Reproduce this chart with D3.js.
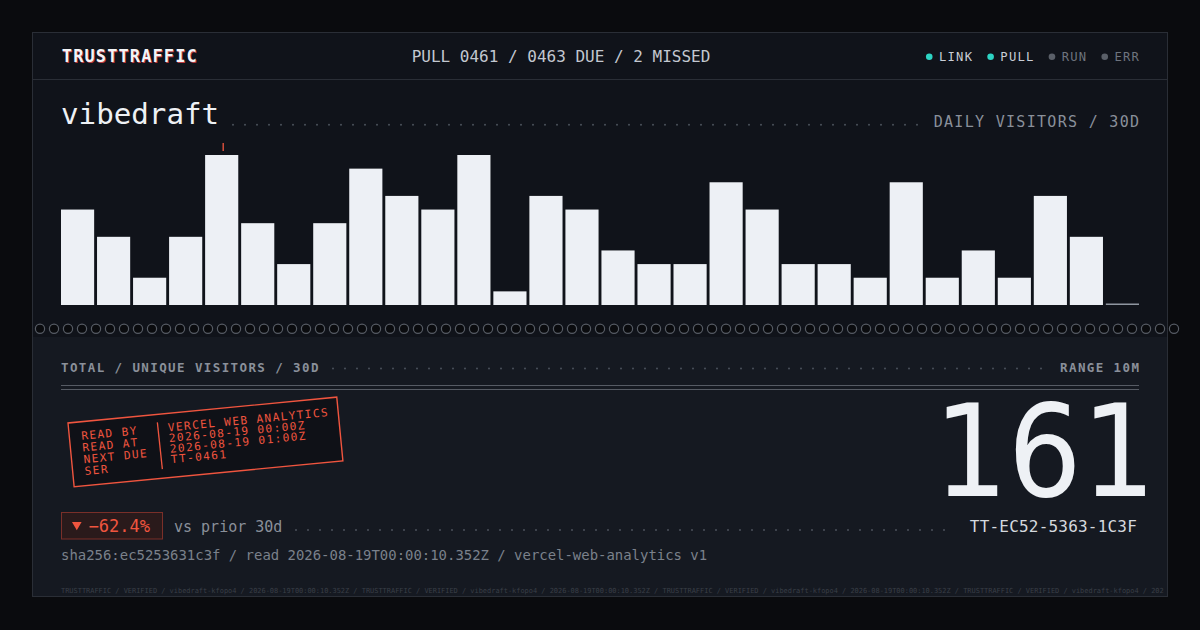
<!DOCTYPE html>
<html><head><meta charset="utf-8">
<script src="https://cdn.jsdelivr.net/npm/d3@7/dist/d3.min.js"></script>
<style>
html,body{margin:0;padding:0;background:#0a0b0e;}
svg{display:block}
</style></head><body>
<svg id="c" width="1200" height="630"></svg>
<script>
// ---- data ----
const days = ["07-21","07-22","07-23","07-24","07-25","07-26","07-27","07-28","07-29","07-30",
              "07-31","08-01","08-02","08-03","08-04","08-05","08-06","08-07","08-08","08-09",
              "08-10","08-11","08-12","08-13","08-14","08-15","08-16","08-17","08-18","08-19"];
const visitors = [7,5,2,5,11,6,3,6,10,8,7,11,1,8,7,4,3,3,9,7,3,3,2,9,2,4,2,8,5,0];
const statusLabels = ["LINK","PULL","RUN","ERR"];
const statusOn = [true,true,false,false];
const stampKeys = ["READ BY","READ AT","NEXT DUE","SER"];
const stampVals = ["VERCEL WEB ANALYTICS","2026-08-19 00:00Z","2026-08-19 01:00Z","TT-0461"];
const brand = "TRUSTTRAFFIC";
const pullText = "PULL 0461 / 0463 DUE / 2 MISSED";
const siteName = "vibedraft";
const chartLabel = "DAILY VISITORS / 30D";
const totalLabel = "TOTAL / UNIQUE VISITORS / 30D";
const rangeLabel = "RANGE 10M";
const deltaPct = -62.4;
const deltaLabel = "vs prior 30d";
const serial = "TT-EC52-5363-1C3F";
const provenance = "sha256:ec5253631c3f / read 2026-08-19T00:00:10.352Z / vercel-web-analytics v1";
const footerSeg = "TRUSTTRAFFIC / VERIFIED / vibedraft-kfopo4 / 2026-08-19T00:00:10.352Z / ";

// ---- styles ----
const MONO = "'DejaVu Sans Mono', 'Liberation Mono', monospace";
const BIG = "'DejaVu Sans Condensed', 'DejaVu Sans', sans-serif";
const C = {page:"#0a0b0e", top:"#10131a", bottom:"#151921", border:"#2a2e36",
  light:"#eef1f5", mid:"#8a909a", dim:"#7b818b", head:"#c3c8d0", teal:"#2dd4c4",
  off:"#5a5f68", red:"#f0553f", dot:"#4b515b"};

const svg = d3.select("#c");
svg.append("rect").attr("width",1200).attr("height",630).attr("fill",C.page);

// card
const L = 32, R = 1168, T = 32, B = 597;
svg.append("rect").attr("x",L).attr("y",T).attr("width",R-L).attr("height",337-T).attr("fill",C.top);
svg.append("rect").attr("x",L).attr("y",337).attr("width",R-L).attr("height",B-337).attr("fill",C.bottom);
svg.append("line").attr("x1",L).attr("x2",R).attr("y1",79.5).attr("y2",79.5).attr("stroke",C.border);
svg.append("rect").attr("x",L+0.5).attr("y",T+0.5).attr("width",R-L-1).attr("height",B-T-1)
  .attr("fill","none").attr("stroke",C.border);

// header
svg.append("text").attr("x",62.6).attr("y",62.5).text(brand)
  .attr("font-family",MONO).attr("font-size",17).attr("font-weight","bold").attr("letter-spacing",1.1)
  .attr("fill","#d8434a").attr("opacity",0.85);
svg.append("text").attr("x",61.8).attr("y",62).text(brand)
  .attr("font-family",MONO).attr("font-size",17).attr("font-weight","bold").attr("letter-spacing",1.1)
  .attr("fill","#f3f4f7");
svg.append("text").attr("x",561).attr("y",62.3).attr("text-anchor","middle").text(pullText)
  .attr("font-family",MONO).attr("font-size",16).attr("fill",C.head);

// status legend (right to left)
let cx = 1139;
for (let i = statusLabels.length - 1; i >= 0; i--) {
  const t = svg.append("text").attr("x",cx+1.2).attr("y",61.2).attr("text-anchor","end")
    .text(statusLabels[i]).attr("font-family",MONO).attr("font-size",12.2).attr("letter-spacing",1.25)
    .attr("fill", statusOn[i] ? "#c9ced6" : "#6e747e");
  const w = t.node().getComputedTextLength();
  const dx = cx - w - 8.5;
  svg.append("circle").attr("cx",dx).attr("cy",56.8).attr("r",3.3)
    .attr("fill", statusOn[i] ? C.teal : C.off);
  cx = dx - 18.5;
}

// leader dots helper
function leader(x0, x1, y) {
  svg.append("g").selectAll("circle").data(d3.range(x0, x1, 12)).join("circle")
    .attr("cx", d => d).attr("cy", y).attr("r", 1).attr("fill", C.dot);
}

// title row
svg.append("text").attr("x",61).attr("y",124.3).text(siteName)
  .attr("font-family",MONO).attr("font-size",29.2).attr("fill",C.light);
svg.append("text").attr("x",1139+1.3).attr("y",126.7).attr("text-anchor","end").text(chartLabel)
  .attr("font-family",MONO).attr("font-size",15).attr("letter-spacing",1.3).attr("fill",C.mid);
leader(233, 926, 124.7);

// bar chart
const x = d3.scaleBand().domain(days).range([61, 1139]).paddingInner(0.08).paddingOuter(0);
const y = d3.scaleLinear().domain([0, d3.max(visitors)]).range([305, 155]);
const bars = svg.append("g");
bars.selectAll("rect").data(visitors.map((v,i)=>({d:days[i], v}))).join("rect")
  .attr("x", d => x(d.d)).attr("width", x.bandwidth())
  .attr("y", d => d.v > 0 ? y(d.v) : y(0) - 1.5)
  .attr("height", d => d.v > 0 ? y(0) - y(d.v) : 1.5)
  .attr("fill", d => d.v > 0 ? "#edf0f5" : "#8f96a0");
// peak marker
const peakIdx = visitors.indexOf(d3.max(visitors));
const px = x(days[peakIdx]) + x.bandwidth()/2 + 1.5;
svg.append("line").attr("x1",px).attr("x2",px).attr("y1",y(d3.max(visitors))-12).attr("y2",y(d3.max(visitors))-4)
  .attr("stroke",C.red).attr("stroke-width",1.3);

// perforation
svg.append("g").selectAll("circle").data(d3.range(40, 1180, 14)).join("circle")
  .attr("cx", d => d).attr("cy", 328.8).attr("r", 4.6)
  .attr("fill", "#0a0b0e").attr("stroke", "#575c65").attr("stroke-width", 1.2);

// totals row
svg.append("text").attr("x",61).attr("y",371.7).text(totalLabel)
  .attr("font-family",MONO).attr("font-size",12.5).attr("font-weight","bold").attr("letter-spacing",1.4).attr("fill",C.mid);
svg.append("text").attr("x",1139+1.4).attr("y",371.7).attr("text-anchor","end").text(rangeLabel)
  .attr("font-family",MONO).attr("font-size",12.5).attr("font-weight","bold").attr("letter-spacing",1.4).attr("fill",C.mid);
leader(333, 1050, 368.5);
svg.append("line").attr("x1",61).attr("x2",1139).attr("y1",385.5).attr("y2",385.5).attr("stroke","#565b64");
svg.append("line").attr("x1",61).attr("x2",1139).attr("y1",389.5).attr("y2",389.5).attr("stroke","#565b64");

// big number
svg.append("text").attr("x",1155.5).attr("y",496).attr("text-anchor","end")
  .text(d3.sum(visitors))
  .attr("font-family",BIG).attr("font-size",129).attr("fill",C.light);

// stamp
const st = svg.append("g").attr("transform","translate(68,423) rotate(-5.5)");
st.append("rect").attr("width",270).attr("height",64).attr("fill","#0f1117")
  .attr("stroke",C.red).attr("stroke-width",1.4);
st.append("line").attr("x1",89).attr("x2",89.5).attr("y1",8).attr("y2",55).attr("stroke",C.red).attr("stroke-width",1.3);
st.selectAll("text.k").data(stampKeys).join("text").attr("class","k")
  .attr("x",12).attr("y",(d,i)=>18+i*11.8).text(d=>d)
  .attr("font-family",MONO).attr("font-size",11.2).attr("letter-spacing",1.35).attr("fill",C.red);
st.selectAll("text.v").data(stampVals).join("text").attr("class","v")
  .attr("x",99).attr("y",(d,i)=>18+i*10.7).text(d=>d)
  .attr("font-family",MONO).attr("font-size",11.2).attr("letter-spacing",1.35).attr("fill",C.red);

// delta row
svg.append("rect").attr("x",61.5).attr("y",512.5).attr("width",101).attr("height",26.5)
  .attr("fill","#2a1a1b").attr("stroke","#7a2f29");
svg.append("path").attr("d", d3.symbol(d3.symbolTriangle, 40)())
  .attr("transform","translate(76.8,524.8) rotate(180)").attr("fill",C.red);
svg.append("text").attr("x",88.5).attr("y",532.3)
  .text("−" + Math.abs(deltaPct).toFixed(1) + "%")
  .attr("font-family",MONO).attr("font-size",17).attr("fill",C.red);
svg.append("text").attr("x",174).attr("y",532.3).text(deltaLabel)
  .attr("font-family",MONO).attr("font-size",15).attr("fill",C.mid);
leader(296, 955, 530);
svg.append("text").attr("x",1137).attr("y",532.3).attr("text-anchor","end").text(serial)
  .attr("font-family",MONO).attr("font-size",16).attr("letter-spacing",0.2).attr("fill","#d5d9df");

// provenance
svg.append("text").attr("x",61).attr("y",560).text(provenance)
  .attr("font-family",MONO).attr("font-size",13.95).attr("fill",C.dim);

// footer (text ends at the card edge, as in the reference)
const fsz = 6.95, fchars = Math.floor((R - 2 - 61) / (fsz * 0.602));
svg.append("text").attr("x",61).attr("y",592.5)
  .text(d3.range(5).map(()=>footerSeg).join("").slice(0, fchars))
  .attr("font-family",MONO).attr("font-size",fsz).attr("fill","#3a3f47");
</script>
</body></html>
